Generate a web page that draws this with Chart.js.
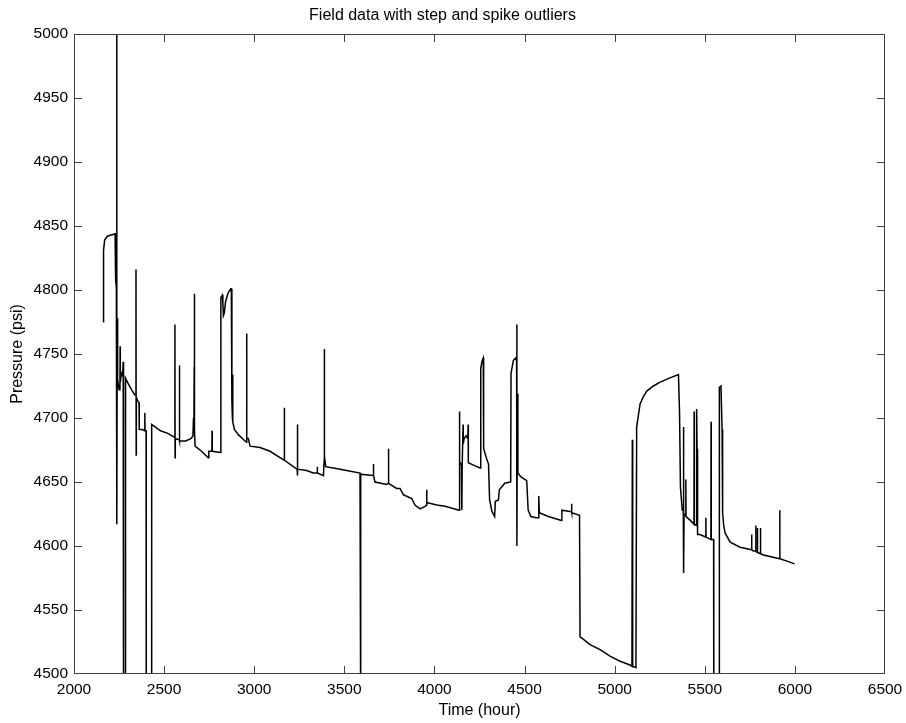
<!DOCTYPE html>
<html>
<head>
<meta charset="utf-8">
<script src="https://cdn.jsdelivr.net/npm/chart.js@4"></script>
<style>
  body { margin: 0; background: #fff; }
  canvas { display: block; }
</style>
</head>
<body>
<canvas id="myChart" width="906" height="723"></canvas>
<script>
// values (4450 = dropped below the axis)
const hours = [
  2163, 2164, 2170, 2185, 2228, 2231, 2235, 2237, 2238, 2240, 2242, 2250, 2255, 2256, 2257, 2263, 2270, 2273, 2275, 2284,
  2286, 2300, 2320, 2338, 2343, 2344, 2345, 2346, 2355, 2361, 2362, 2380, 2392, 2393, 2394, 2400, 2401, 2430, 2431,
  2450, 2480, 2520, 2558, 2560, 2561, 2562, 2584, 2585, 2586, 2620, 2650, 2660, 2663, 2665, 2667, 2668, 2669, 2672,
  2708, 2745, 2748, 2765, 2766, 2767, 2813, 2815, 2823, 2826, 2829, 2834, 2841, 2856, 2870, 2873, 2876, 2879, 2880,
  2882, 2890, 2912, 2949, 2957, 2958, 2959, 2967, 2977, 3032, 3088, 3143, 3166, 3167, 3168, 3217, 3238, 3239, 3240,
  3242, 3291, 3328, 3349, 3350, 3351, 3384, 3388, 3389, 3390, 3397, 3439, 3513, 3587, 3590, 3591, 3592, 3660, 3661,
  3663, 3670, 3735, 3744, 3745, 3746, 3790, 3809, 3828, 3874, 3892, 3920, 3948, 3956, 3957, 3958, 4013, 4059, 4137,
  4139, 4140, 4150, 4152, 4154, 4159, 4160, 4165, 4175, 4185, 4187, 4188, 4220, 4253, 4257, 4265, 4271, 4273, 4290,
  4300, 4306, 4319, 4334, 4338, 4355, 4360, 4390, 4423, 4425, 4438, 4451, 4456, 4457, 4458, 4460, 4463, 4480, 4512,
  4520, 4535, 4563, 4578, 4579, 4582, 4632, 4705, 4707, 4752, 4760, 4761, 4762, 4805, 4808, 4827, 4863, 4919, 4974,
  5030, 5085, 5096, 5098, 5100, 5118, 5122, 5141, 5160, 5178, 5215, 5252, 5300, 5354, 5360, 5365, 5375, 5381, 5382,
  5383, 5385, 5394, 5395, 5396, 5420, 5440, 5441, 5442, 5454, 5455, 5457, 5460, 5472, 5505, 5506, 5507, 5534, 5535,
  5536, 5549, 5550, 5580, 5581, 5590, 5596, 5599, 5605, 5613, 5641, 5696, 5759, 5760, 5761, 5770, 5782, 5783, 5784,
  5791, 5792, 5793, 5808, 5809, 5810, 5825, 5915, 5916, 5917, 5960, 5998
];
const pressure = [
  4775, 4831, 4839, 4842, 4844, 4808, 4802, 5000, 4617, 4778, 4730, 4722, 4725, 4756, 4728, 4735, 4733, 4744, 4450, 4450,
  4731, 4727, 4722, 4718, 4718, 4816, 4671, 4716, 4713, 4712, 4691, 4691, 4690, 4704, 4690, 4690, 4450, 4450, 4695,
  4693, 4690, 4688, 4685, 4773, 4669, 4684, 4683, 4741, 4682, 4682, 4684, 4686, 4700, 4690, 4740, 4797, 4690, 4678,
  4674, 4669, 4674, 4674, 4690, 4674, 4673, 4794, 4796, 4790, 4780, 4782, 4791, 4798, 4801, 4801, 4713, 4700, 4734,
  4697, 4691, 4687, 4682, 4681, 4766, 4684, 4684, 4678, 4677, 4674, 4669, 4667, 4708, 4667, 4662, 4660, 4695, 4655,
  4660, 4659, 4657, 4657, 4662, 4657, 4655, 4667, 4754, 4670, 4662, 4661, 4659, 4657, 4656, 4450, 4656, 4655, 4664,
  4655, 4650, 4648, 4649, 4676, 4649, 4645, 4645, 4640, 4637, 4632, 4629, 4631, 4632, 4644, 4634, 4632, 4631, 4628,
  4705, 4666, 4663, 4628, 4663, 4695, 4680, 4684, 4686, 4684, 4695, 4665, 4663, 4661, 4739, 4745, 4747, 4676, 4668,
  4664, 4636, 4627, 4623, 4635, 4636, 4644, 4649, 4650, 4735, 4745, 4747, 4745, 4773, 4600, 4719, 4657, 4654, 4651,
  4628, 4623, 4622, 4622, 4639, 4626, 4623, 4620, 4628, 4627, 4627, 4633, 4626, 4624, 4529, 4527, 4523, 4519, 4514,
  4510, 4507, 4506, 4683, 4506, 4505, 4693, 4711, 4717, 4721, 4725, 4728, 4731, 4734, 4704, 4646, 4628, 4628, 4693,
  4579, 4625, 4624, 4652, 4623, 4620, 4617, 4705, 4617, 4616, 4707, 4676, 4609, 4609, 4607, 4622, 4607, 4605, 4697,
  4605, 4605, 4450, 4450, 4724, 4725, 4691, 4626, 4616, 4610, 4603, 4599, 4597, 4609, 4597, 4596, 4596, 4616, 4596,
  4595, 4614, 4595, 4594, 4614, 4594, 4593, 4590, 4628, 4590, 4588, 4586
];
const xTicks = [2000, 2500, 3000, 3500, 4000, 4500, 5000, 5500, 6000, 6500];
const yTicks = [4500, 4550, 4600, 4650, 4700, 4750, 4800, 4850, 4900, 4950, 5000];

Chart.defaults.font.family = "'Liberation Sans', Arial, sans-serif";
Chart.defaults.color = "#000";

// box round the plot with inward ticks on all four sides
const boxTicks = {
  id: "boxTicks",
  afterDraw(chart) {
    const { ctx, chartArea: a, scales } = chart;
    ctx.save();
    ctx.strokeStyle = "#404040";
    ctx.lineWidth = 1;
    ctx.beginPath();
    xTicks.forEach((v) => {
      const px = Math.min(Math.round(scales.x.getPixelForValue(v)), a.right - 1) + 0.5;
      ctx.moveTo(px, a.bottom); ctx.lineTo(px, a.bottom - 8);
      ctx.moveTo(px, a.top); ctx.lineTo(px, a.top + 8);
    });
    yTicks.forEach((v) => {
      const py = Math.min(Math.round(scales.y.getPixelForValue(v)), a.bottom - 1) + 0.5;
      ctx.moveTo(a.left, py); ctx.lineTo(a.left + 8, py);
      ctx.moveTo(a.right, py); ctx.lineTo(a.right - 8, py);
    });
    ctx.stroke();
    ctx.strokeRect(a.left + 0.5, a.top + 0.5, a.right - a.left - 1, a.bottom - a.top - 1);
    ctx.restore();
  }
};

const points = hours.map((h, i) => ({ x: h, y: pressure[i] }));

new Chart(document.getElementById("myChart"), {
  type: "scatter",
  data: {
    datasets: [{
      data: points,
      showLine: true,
      borderColor: "#000",
      borderWidth: 1.5,
      pointRadius: 0,
      tension: 0
    }]
  },
  options: {
    responsive: false,
    animation: false,
    layout: { padding: { left: 0, right: 21, top: 0, bottom: 0 } },
    plugins: {
      legend: { display: false },
      tooltip: { enabled: false },
      title: {
        display: true,
        text: "Field data with step and spike outliers",
        font: { size: 16, weight: "normal" },
        padding: { top: 5.5, bottom: 9.3 }
      }
    },
    scales: {
      x: {
        type: "linear",
        min: 2000,
        max: 6500,
        afterBuildTicks: (s) => { s.ticks = xTicks.map((v) => ({ value: v })); },
        afterFit: (s) => { s.height = 49; s.paddingLeft = 0; s.paddingRight = 0; },
        grid: { display: false, drawTicks: false },
        border: { display: false },
        ticks: { font: { size: 15.5 }, padding: 6, maxRotation: 0, autoSkip: false, callback: (v) => String(v) },
        title: { display: true, text: "Time (hour)", font: { size: 16 }, padding: { bottom: 3 } }
      },
      y: {
        type: "linear",
        min: 4500,
        max: 5000,
        afterBuildTicks: (s) => { s.ticks = yTicks.map((v) => ({ value: v })); },
        afterFit: (s) => { s.width = 74; },
        grid: { display: false, drawTicks: false },
        border: { display: false },
        ticks: { font: { size: 15.5 }, padding: 6, autoSkip: false, callback: (v) => String(v) },
        title: { display: true, text: "Pressure (psi)", font: { size: 16 }, padding: { top: 8 } }
      }
    }
  },
  plugins: [boxTicks]
});
</script>
</body>
</html>
